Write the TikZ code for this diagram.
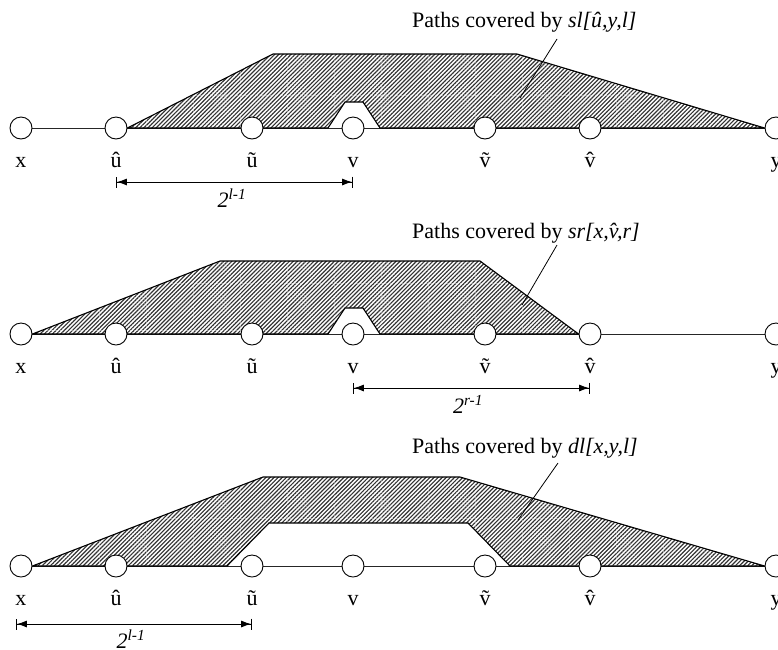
\documentclass[tikz,border=0pt]{standalone}
\usepackage{fontspec}
\setmainfont{Liberation Serif}
\usetikzlibrary{patterns.meta,arrows.meta,backgrounds}
\begin{document}
\begin{tikzpicture}[x=1pt,y=-1pt,
  vtx/.style={circle,draw=black,fill=white,minimum size=22pt,inner sep=0pt,line width=0.9pt},
  lbl/.style={font=\fontsize{22}{26}\selectfont,inner sep=0pt,anchor=base},
  hatch/.style={pattern={Lines[angle=45,distance=2.9pt,line width=1.15pt]},pattern color=black!80},
  outline/.style={draw=black,line width=1.1pt,line join=miter},
  baseline/.style={draw=black!85,line width=0.9pt},
  dim/.style={line width=0.9pt,{Bar[width=11pt]Latex[length=10pt,width=7pt]}-{Latex[length=10pt,width=7pt]Bar[width=11pt]}},
  leader/.style={line width=0.8pt},
  seam/.style={white,line width=0.6pt,dash pattern=on 3pt off 2pt,opacity=0.4}]
\useasboundingbox (0,0) rectangle (778,649);

% ---------- vertices ----------
\foreach \r/\yc in {1/128,2/334,3/566}{
  \foreach \n/\xx/\t in {x/21/x,uh/116/{\^u},ut/252/{\~u},v/353/v,vt/485/{\~v},vh/590/{\^v},y/776/y}{
    \node[vtx] (\n\r) at (\xx,\yc) {};
    \node[lbl] (l\n\r) at (\xx,\yc+39) {\t};
  }
}

\begin{pgfonlayer}{background}
\fill[white] (0,0) rectangle (778,649);
% ---------- row 1 ----------
\draw[baseline] (x1) -- (y1);
\path[hatch] (uh1.east) -- (273,54) -- (517,54) -- (y1.west) -- (380,128) -- (363,102) -- (345,102) -- (328,128) -- cycle;
\begin{scope}
\clip (uh1.east) -- (273,54) -- (517,54) -- (y1.west) -- (380,128) -- (363,102) -- (345,102) -- (328,128) -- cycle;
\foreach \k in {0,...,16}{\draw[seam] (5+47*\k,0) -- (5+47*\k,649);}
\foreach \k in {0,...,13}{\draw[seam] (0,1+47*\k) -- (778,1+47*\k);}
\end{scope}
\draw[outline] (uh1.east) -- (273,54) -- (517,54) -- (y1.west) -- (380,128) -- (363,102) -- (345,102) -- (328,128) -- cycle;

% ---------- row 2 ----------
\draw[baseline] (x2) -- (y2);
\path[hatch] (x2.east) -- (220,261) -- (480,261) -- (vh2.west) -- (380,334) -- (363,308) -- (345,308) -- (328,334) -- cycle;
\begin{scope}
\clip (x2.east) -- (220,261) -- (480,261) -- (vh2.west) -- (380,334) -- (363,308) -- (345,308) -- (328,334) -- cycle;
\foreach \k in {0,...,16}{\draw[seam] (5+47*\k,0) -- (5+47*\k,649);}
\foreach \k in {0,...,13}{\draw[seam] (0,1+47*\k) -- (778,1+47*\k);}
\end{scope}
\draw[outline] (x2.east) -- (220,261) -- (480,261) -- (vh2.west) -- (380,334) -- (363,308) -- (345,308) -- (328,334) -- cycle;

% ---------- row 3 ----------
\draw[baseline] (x3) -- (y3);
\path[hatch] (x3.east) -- (263,477) -- (460,477) -- (y3.west) -- (510,566) -- (468,523) -- (269,523) -- (227,566) -- cycle;
\begin{scope}
\clip (x3.east) -- (263,477) -- (460,477) -- (y3.west) -- (510,566) -- (468,523) -- (269,523) -- (227,566) -- cycle;
\foreach \k in {0,...,16}{\draw[seam] (5+47*\k,0) -- (5+47*\k,649);}
\foreach \k in {0,...,13}{\draw[seam] (0,1+47*\k) -- (778,1+47*\k);}
\end{scope}
\draw[outline] (x3.east) -- (263,477) -- (460,477) -- (y3.west) -- (510,566) -- (468,523) -- (269,523) -- (227,566) -- cycle;
\end{pgfonlayer}

% ---------- captions and leaders ----------
\node[lbl,anchor=base west] (cap1) at (412,27) {Paths covered by \textit{sl[\^u,y,l]}};
\coordinate (p1) at (520,98);
\draw[leader] (557,39) -- (p1);
\node[lbl,anchor=base west] (cap2) at (412,238) {Paths covered by \textit{sr[x,\^v,r]}};
\coordinate (p2) at (522,305);
\draw[leader] (557,245) -- (p2);
\node[lbl,anchor=base west] (cap3) at (412,453) {Paths covered by \textit{dl[x,y,l]}};
\coordinate (p3) at (518,520);
\draw[leader] (558,463) -- (p3);

% ---------- dimension lines ----------
\coordinate (d1a) at (116,182); \coordinate (d1b) at (353,182);
\draw[dim] (d1a) -- (d1b);
\node[lbl] (m1) at (232,207) {\textit{2\textsuperscript{l-1}}};
\coordinate (d2a) at (353,388); \coordinate (d2b) at (590,388);
\draw[dim] (d2a) -- (d2b);
\node[lbl] (m2) at (468,413) {\textit{2\textsuperscript{r-1}}};
\coordinate (d3a) at (16,624); \coordinate (d3b) at (252,624);
\draw[dim] (d3a) -- (d3b);
\node[lbl] (m3) at (131,648) {\textit{2\textsuperscript{l-1}}};
\end{tikzpicture}
\end{document}
